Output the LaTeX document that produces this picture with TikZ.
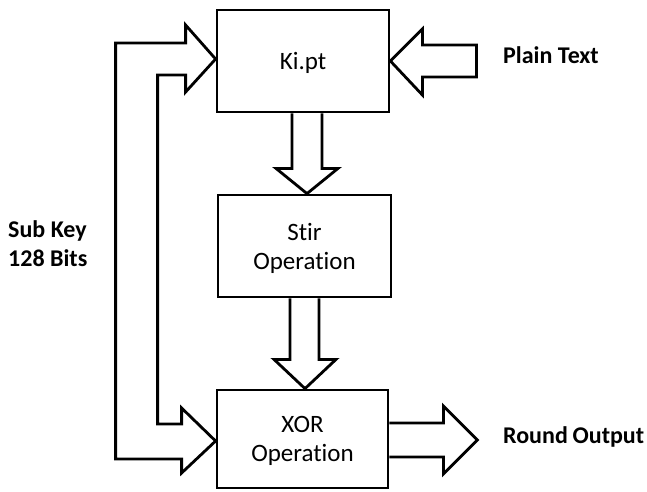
\documentclass[tikz,border=0pt]{standalone}
\usepackage{fontspec}
\setmainfont{Carlito}[Ligatures={NoCommon}]
\usetikzlibrary{calc}
\begin{document}
\begin{tikzpicture}[x=1pt,y=-1pt,
  box/.style={draw, line width=2.8pt, inner sep=0pt, align=center,
    text depth=0pt, font=\fontsize{25}{29}\selectfont},
  blk/.style={draw, line width=2.8pt, line join=miter},
  lbl/.style={inner sep=0pt, align=left, font=\fontsize{24}{29}\selectfont\bfseries}]
\useasboundingbox (0,0) rectangle (647,491);
% blocks
\node[box, minimum width=172pt, minimum height=102pt, text height=16pt] (ki) at (303,61) {Ki.pt};
\node[box, minimum width=173pt, minimum height=102pt] (stir) at (304.5,246) {Stir\\Operation};
\node[box, minimum width=171pt, minimum height=98pt] (xor) at (302.5,439) {XOR\\Operation};
% labels
\node[lbl, anchor=base west] (plain) at (503,63) {Plain Text};
\node[lbl, anchor=base west] (round) at (503,443) {Round\hspace{0.2em}Output};
\node[lbl, anchor=west] (subkey) at (8,244) {Sub Key\\128 Bits};
% tips
\coordinate (t1) at ($(ki.west)+(0,-2)$);
\coordinate (t2) at ($(xor.west)+(0,2)$);
% sub key bracket arrow
\draw[blk] (t1) -- ++(-30,-34) -- ++(0,18) -- ++(-70,0) -- ++(0,416) -- ++(66,0)
  -- ++(0,14) -- (t2) -- ++(-34,-33) -- ++(0,16) -- ++(-24,0) -- ++(0,-349)
  -- ++(28,0) -- ++(0,17) -- cycle;
% plain text arrow
\draw[blk] (ki.east) -- ++(32,-32) -- ++(0,16) -- ++(54,0) -- ++(0,32)
  -- ++(-54,0) -- ++(0,18) -- cycle;
% ki -> stir
\draw[blk] ($(ki.south)+(-11,0)$) -- ++(0,55) -- ++(-16,0)
  -- ($(stir.north)+(2.5,0)$) -- ($(ki.south)+(35,55)$) -- ++(-16,0)
  -- ($(ki.south)+(19,0)$);
% stir -> xor
\draw[blk] ($(stir.south)+(-14.5,0)$) -- ++(0,61) -- ++(-16,0)
  -- ($(xor.north)+(2.5,0)$) -- ($(stir.south)+(31.5,61)$) -- ++(-17,0)
  -- ($(stir.south)+(14.5,0)$);
% xor -> round output
\draw[blk] ($(xor.east)+(0,-16)$) -- ++(54,0) -- ++(0,-17) -- ++(34,34)
  -- ++(-34,34) -- ++(0,-17) -- ++(-54,0);
\end{tikzpicture}
\end{document}
